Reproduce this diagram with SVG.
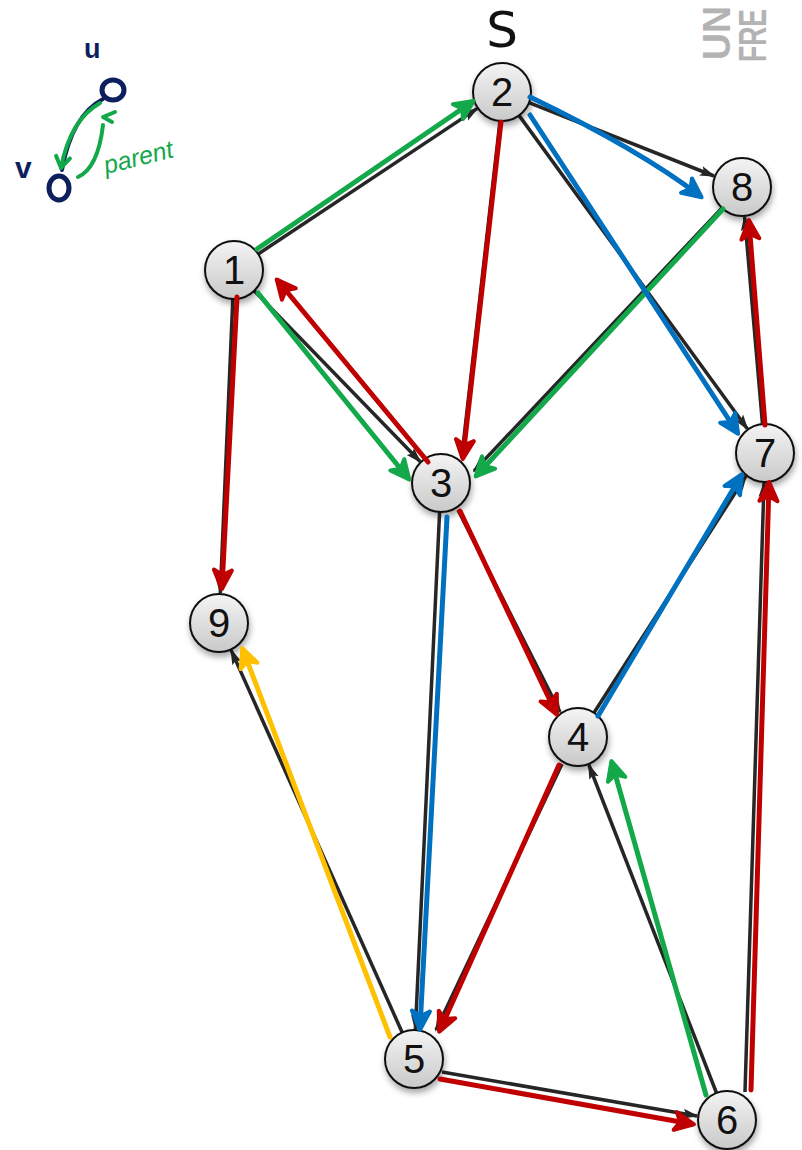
<svg xmlns="http://www.w3.org/2000/svg" width="802" height="1150" viewBox="0 0 802 1150">
<style>
.base{stroke:#262626;stroke-width:3.5;fill:none;marker-end:url(#mb)}
.ink{fill:none;stroke-width:5;stroke-linecap:round;stroke-linejoin:round}
.g{stroke:#13a84a;marker-end:url(#mg)}
.r{stroke:#c00000;marker-end:url(#mr)}
.b{stroke:#0070c0;marker-end:url(#mbl)}
.y{stroke:#ffc000;marker-end:url(#my)}
.node circle{fill:url(#ng);stroke:#111;stroke-width:2;filter:url(#sh)}
.node text{font-family:"Liberation Sans",Arial,sans-serif;font-size:40px;text-anchor:middle;fill:#111}
</style>
<defs>
<linearGradient id="ng" x1="0" y1="0" x2="0" y2="1">
<stop offset="0" stop-color="#f4f4f4"/><stop offset="1" stop-color="#c9c9c9"/>
</linearGradient>
<filter id="sh" x="-30%" y="-30%" width="170%" height="170%">
<feDropShadow dx="1" dy="4" stdDeviation="3" flood-color="#000" flood-opacity="0.35"/>
</filter>
<marker id="mb" markerUnits="userSpaceOnUse" orient="auto" refX="0" refY="0" markerWidth="40" markerHeight="40" viewBox="-20 -20 40 40" overflow="visible"><path d="M2,0 L-14,-5 L-11,0 L-14,5 Z" fill="#262626"/></marker>
<marker id="mg" markerUnits="userSpaceOnUse" orient="auto" refX="0" refY="0" markerWidth="40" markerHeight="40" viewBox="-20 -20 40 40" overflow="visible"><path d="M2,0 L-17,-9 L-12,0 L-17,9 Z" fill="#13a84a" stroke="#13a84a" stroke-width="4" stroke-linejoin="round"/></marker>
<marker id="mr" markerUnits="userSpaceOnUse" orient="auto" refX="0" refY="0" markerWidth="40" markerHeight="40" viewBox="-20 -20 40 40" overflow="visible"><path d="M2,0 L-17,-9 L-12,0 L-17,9 Z" fill="#c00000" stroke="#c00000" stroke-width="4" stroke-linejoin="round"/></marker>
<marker id="mbl" markerUnits="userSpaceOnUse" orient="auto" refX="0" refY="0" markerWidth="40" markerHeight="40" viewBox="-20 -20 40 40" overflow="visible"><path d="M2,0 L-17,-9 L-12,0 L-17,9 Z" fill="#0070c0" stroke="#0070c0" stroke-width="4" stroke-linejoin="round"/></marker>
<marker id="my" markerUnits="userSpaceOnUse" orient="auto" refX="0" refY="0" markerWidth="40" markerHeight="40" viewBox="-20 -20 40 40" overflow="visible"><path d="M2,0 L-17,-9 L-12,0 L-17,9 Z" fill="#ffc000" stroke="#ffc000" stroke-width="4" stroke-linejoin="round"/></marker>
<marker id="mn" markerUnits="userSpaceOnUse" orient="auto" refX="0" refY="0" markerWidth="40" markerHeight="40" viewBox="-20 -20 40 40" overflow="visible"><path d="M0,0 L-11,-7 M0,0 L-11,7" stroke="#13a84a" stroke-width="4" stroke-linecap="round" fill="none"/></marker>
</defs>
<rect width="802" height="1150" fill="#fff"/>

<g id="logo" font-family="Liberation Sans,Arial,sans-serif" font-weight="bold" font-size="38" fill="#b3b3b3">
<text transform="translate(730,60) rotate(-90)" textLength="54" lengthAdjust="spacingAndGlyphs">UN</text>
<text transform="translate(766,62) rotate(-90)" textLength="53" lengthAdjust="spacingAndGlyphs">FRE</text>
</g>

<g id="legend">
<text x="84" y="58" font-family="Liberation Sans,Arial,sans-serif" font-weight="bold" font-size="27" fill="#0d1f5c">u</text>
<text x="15" y="178" font-family="Liberation Sans,Arial,sans-serif" font-weight="bold" font-size="30" fill="#0d1f5c">v</text>
<ellipse cx="113" cy="90" rx="11" ry="10" fill="none" stroke="#0d1f5c" stroke-width="5"/>
<ellipse cx="59" cy="188" rx="10" ry="12" fill="none" stroke="#0d1f5c" stroke-width="5"/>
<path d="M103,99 Q72,115 62,170" fill="none" stroke="#0d1f5c" stroke-width="4" stroke-linecap="round"/>
<path d="M100,103 Q70,120 61,168" fill="none" stroke="#13a84a" stroke-width="4" stroke-linecap="round" marker-end="url(#mn)"/>
<path d="M78,177 Q98,168 103,125" fill="none" stroke="#13a84a" stroke-width="4" stroke-linecap="round"/>
<path d="M115,112 L103,117 L112,122" fill="none" stroke="#13a84a" stroke-width="4" stroke-linecap="round" stroke-linejoin="round"/>
<text transform="translate(106,174) rotate(-14)" font-family="Liberation Sans,Arial,sans-serif" font-style="italic" font-size="25" fill="#13a84a">parent</text>
</g>

<text id="source-label" x="502" y="47" text-anchor="middle" font-family="DejaVu Sans,sans-serif" font-size="50" fill="#111">S</text>

<g id="edges">
<line class="base" x1="258.2" y1="254" x2="477" y2="108.6"/>
<line class="base" x1="529" y1="102.7" x2="714" y2="176"/>
<line class="base" x1="519" y1="115.4" x2="747.3" y2="428.8"/>
<line class="base" x1="500" y1="121" x2="462" y2="455"/>
<line class="base" x1="254.2" y1="290.8" x2="420.1" y2="461.5"/>
<line class="base" x1="722" y1="208" x2="474" y2="471"/>
<line class="base" x1="232.8" y1="299" x2="220.3" y2="593"/>
<line class="base" x1="439.6" y1="512" x2="415.4" y2="1029"/>
<line class="base" x1="458" y1="510" x2="560" y2="712"/>
<line class="base" x1="594" y1="712.8" x2="746" y2="476"/>
<line class="base" x1="562" y1="764" x2="436" y2="1030"/>
<line class="base" x1="716.5" y1="1093" x2="588.9" y2="765"/>
<line class="base" x1="402.2" y1="1032.5" x2="231.2" y2="650.4"/>
<line class="base" x1="442" y1="1072" x2="697" y2="1116"/>
<line class="base" x1="745" y1="1092" x2="764" y2="483"/>
<line class="base" x1="762.5" y1="424" x2="744.6" y2="216.9"/>
</g>

<g id="node-1" class="node"><circle cx="234" cy="270" r="29"/><text x="234" y="284">1</text></g>
<g id="node-2" class="node"><circle cx="502" cy="92" r="29"/><text x="502" y="106">2</text></g>
<g id="node-3" class="node"><circle cx="441" cy="483" r="29"/><text x="441" y="497">3</text></g>
<g id="node-4" class="node"><circle cx="578" cy="737" r="29"/><text x="578" y="751">4</text></g>
<g id="node-5" class="node"><circle cx="414" cy="1059" r="29"/><text x="414" y="1073">5</text></g>
<g id="node-6" class="node"><circle cx="727" cy="1120" r="29"/><text x="727" y="1134">6</text></g>
<g id="node-7" class="node"><circle cx="765" cy="453" r="29"/><text x="765" y="467">7</text></g>
<g id="node-8" class="node"><circle cx="742" cy="187" r="29"/><text x="742" y="201">8</text></g>
<g id="node-9" class="node"><circle cx="219" cy="623" r="29"/><text x="219" y="637">9</text></g>

<g id="annotations">
<path class="ink g" d="M257,249 L472,102"/>
<path class="ink g" d="M258,293 L408,478"/>
<path class="ink g" d="M723,209 L477,475"/>
<path class="ink g" d="M706,1095 L612,763"/>
<path class="ink r" d="M501,122 L463,457"/>
<path class="ink r" d="M428,462 L278,281"/>
<path class="ink r" d="M237,297 L222,587"/>
<path class="ink r" d="M460,511 L556,713"/>
<path class="ink r" d="M559,765 L440,1030"/>
<path class="ink r" d="M440,1079 L692,1124"/>
<path class="ink r" d="M751,1090 L769,484"/>
<path class="ink r" d="M765,425 L749,222"/>
<path class="ink b" d="M530,97 Q640,150 700,196"/>
<path class="ink b" d="M530,115 L737,432"/>
<path class="ink b" d="M447,517 L420,1028"/>
<path class="ink b" d="M598,716 L741,476"/>
<path class="ink y" d="M390,1037 L243,650"/>
</g>
</svg>
